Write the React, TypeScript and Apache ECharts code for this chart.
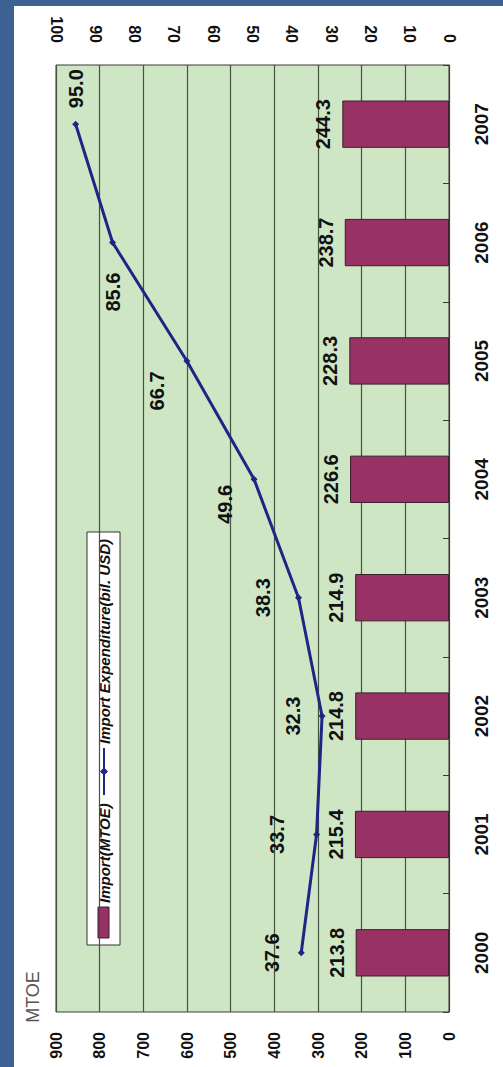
import React, { useEffect, useRef } from 'react';
import * as echarts from 'echarts';

const years = ['2000', '2001', '2002', '2003', '2004', '2005', '2006', '2007'];
const importMtoe = [213.8, 215.4, 214.8, 214.9, 226.6, 228.3, 238.7, 244.3];
const importExpenditure = [37.6, 33.7, 32.3, 38.3, 49.6, 66.7, 85.6, 95.0];
const mtoeScale = { min: 0, max: 900, interval: 100 };
const usdScale = { min: 0, max: 100, interval: 10 };
const barName = 'Import(MTOE)';
const lineName = 'Import Expenditure(bil. USD)';
const unitName = 'MTOE';

// label placement styling for the line's data labels (layout only, not data);
// offsets are in the rotated text frame: [-d, 0] moves a label d px down the page
const lineLabelPlacement: any[] = [
  {},
  { distance: 36 },
  {},
  { distance: 32 },
  { offset: [-25, 0] },
  { offset: [-30, 0] },
  { position: 'bottom', distance: 46 },
  { position: 'top', distance: 32 },
];

const SANS = '"Liberation Sans", Arial, sans-serif';

const BAR_COLOR = '#983265';
const LINE_COLOR = '#1d2585';
const FRAME = '#3d6192';

export default function App() {
  const ref = useRef<HTMLDivElement>(null);

  useEffect(() => {
    const chart = echarts.init(ref.current!, null, { renderer: 'svg' });
    const axisFont = { color: '#111', fontFamily: SANS, fontWeight: 'bold' as const };
    chart.setOption({
      animation: false,
      backgroundColor: '#ffffff',
      grid: {
        left: 56, right: 54, top: 65, bottom: 55,
        show: true, backgroundColor: '#cfe6c4', borderColor: '#3a3a3a', borderWidth: 1,
      },
      xAxis: [
        {
          type: 'value', position: 'bottom', inverse: true, ...mtoeScale,
          axisLine: { show: false }, axisTick: { show: false },
          splitLine: { show: true, lineStyle: { color: '#44543f', width: 1.2 } },
          axisLabel: { rotate: 90, margin: 20, fontSize: 16, ...axisFont },
        },
        {
          type: 'value', position: 'top', inverse: true, ...usdScale,
          axisLine: { show: false }, axisTick: { show: false }, splitLine: { show: false },
          axisLabel: { rotate: 90, margin: 22, fontSize: 16, ...axisFont },
        },
      ],
      yAxis: {
        type: 'category', position: 'right', data: years,
        axisLine: { show: true, lineStyle: { color: '#3a3a3a', width: 1 } },
        axisTick: { show: true, inside: true, length: 6, lineStyle: { color: '#3a3a3a' } },
        axisLabel: { rotate: 90, margin: 23, fontSize: 19, ...axisFont },
      },
      series: [
        {
          name: barName, type: 'bar', xAxisIndex: 0, data: importMtoe, barWidth: '40%',
          itemStyle: { color: BAR_COLOR, borderColor: '#3b1f2c', borderWidth: 1 },
          label: {
            show: true, position: 'left', distance: 19, rotate: 90, align: 'center', verticalAlign: 'middle',
            formatter: (p: any) => Number(p.value).toFixed(1),
            fontFamily: SANS, fontWeight: 'bold', fontSize: 20, color: '#111',
          },
        },
        {
          name: lineName, type: 'line', xAxisIndex: 1,
          data: importExpenditure.map((v, i) => ({ value: [v, years[i]], label: lineLabelPlacement[i] })),
          symbol: 'diamond', symbolSize: 7,
          lineStyle: { color: LINE_COLOR, width: 3 },
          itemStyle: { color: LINE_COLOR },
          label: {
            show: true, position: 'left', distance: 26, rotate: 90, align: 'center', verticalAlign: 'middle',
            formatter: (p: any) => Number(p.value[0]).toFixed(1),
            fontFamily: SANS, fontWeight: 'bold', fontSize: 20, color: '#111',
          },
        },
      ],
      graphic: [
        { type: 'rect', shape: { x: 0, y: 0, width: 14, height: 1067 }, style: { fill: FRAME } },
        { type: 'rect', shape: { x: 0, y: 0, width: 503, height: 6 }, style: { fill: FRAME } },
        {
          type: 'text', x: 33, y: 997, rotation: Math.PI / 2,
          style: {
            text: unitName, font: `18px ${SANS}`, fill: '#555',
            align: 'center', verticalAlign: 'middle', textAlign: 'center', textVerticalAlign: 'middle',
          },
        },
        {
          type: 'group', x: 87, y: 945, rotation: Math.PI / 2,
          children: [
            { type: 'rect', shape: { x: 0, y: 0, width: 413, height: 33 }, style: { fill: '#ffffff', stroke: '#333', lineWidth: 1 } },
            { type: 'rect', shape: { x: 7, y: 11, width: 31, height: 11 }, style: { fill: BAR_COLOR, stroke: '#3b1f2c', lineWidth: 1 } },
            {
              type: 'text', x: 42, y: 17,
              style: {
                text: barName, font: `italic bold 15px ${SANS}`, fill: '#111',
                align: 'left', verticalAlign: 'middle', textAlign: 'left', textVerticalAlign: 'middle',
              },
            },
            { type: 'line', shape: { x1: 150, y1: 17, x2: 197, y2: 17 }, style: { stroke: LINE_COLOR, lineWidth: 2 } },
            { type: 'polygon', shape: { points: [[173.5, 13], [177.5, 17], [173.5, 21], [169.5, 17]] }, style: { fill: LINE_COLOR } },
            {
              type: 'text', x: 201, y: 17,
              style: {
                text: lineName, font: `italic bold 15px ${SANS}`, fill: '#111',
                align: 'left', verticalAlign: 'middle', textAlign: 'left', textVerticalAlign: 'middle',
              },
            },
          ],
        },
      ],
    });
    return () => chart.dispose();
  }, []);

  return <div ref={ref} style={{ position: 'absolute', left: 0, top: 0, width: 503, height: 1067 }} />;
}
